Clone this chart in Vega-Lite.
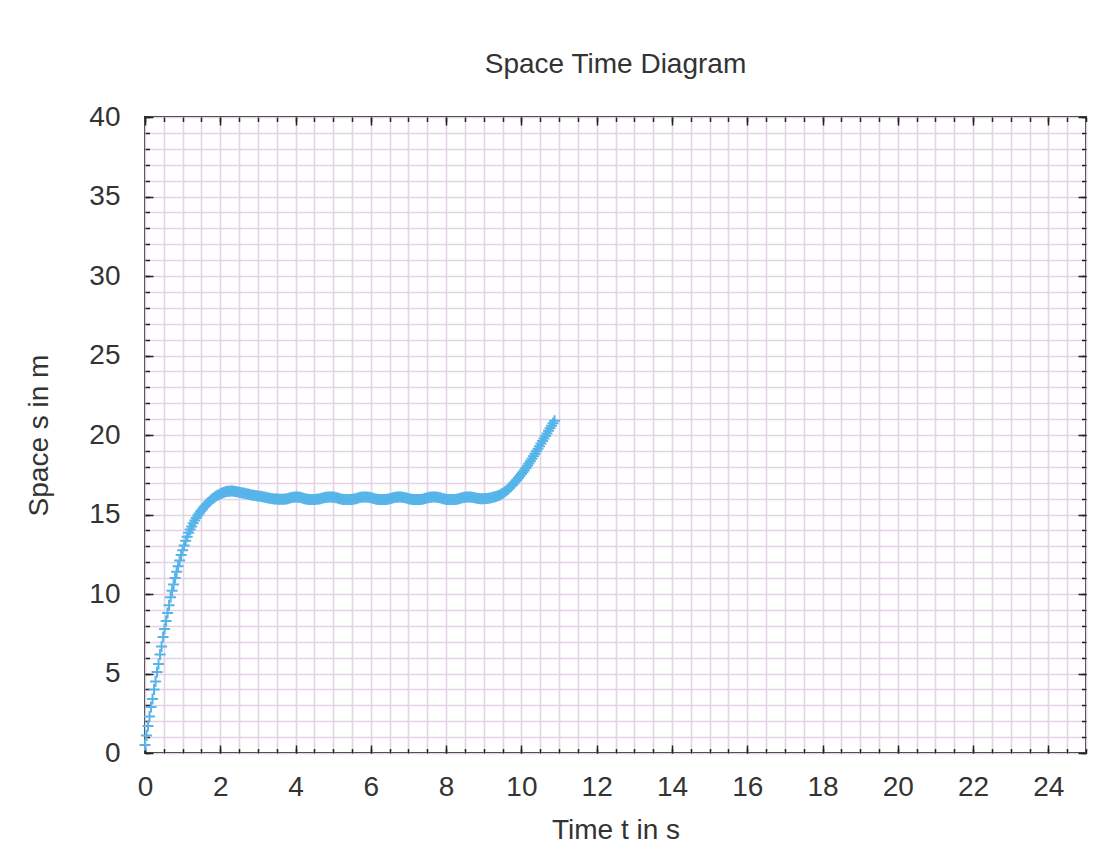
{
  "$schema": "https://vega.github.io/schema/vega-lite/v6.json",
  "width": 941,
  "height": 636,
  "autosize": {"type": "none"},
  "padding": {"left": 145, "top": 117, "right": 19, "bottom": 92},
  "background": "white",
  "title": {"text": "Space Time Diagram", "anchor": "middle", "frame": "group", "baseline": "alphabetic", "offset": 2, "font": "Liberation Sans", "fontSize": 28, "fontWeight": "normal", "color": "#333"},
  "config": {
    "view": {"stroke": "#222", "strokeWidth": 2},
    "axis": {"labelFont": "Liberation Sans", "titleFont": "Liberation Sans", "labelFontSize": 28, "titleFontSize": 28, "labelColor": "#333", "titleColor": "#333", "titleFontWeight": "normal", "domain": false, "tickColor": "#222", "tickWidth": 1.5, "labelFlush": false}
  },
  "data": {"values": [
    {"t":0,"s":0.5},{"t":0.04,"s":1.1},{"t":0.08,"s":1.7},{"t":0.12,"s":2.3},{"t":0.16,"s":2.9},{"t":0.2,"s":3.4},{"t":0.24,"s":4.0},{"t":0.28,"s":4.5},{"t":0.32,"s":5.1},{"t":0.36,"s":5.6},
    {"t":0.4,"s":6.2},{"t":0.44,"s":6.7},{"t":0.48,"s":7.3},{"t":0.52,"s":7.8},{"t":0.56,"s":8.3},{"t":0.6,"s":8.8},{"t":0.64,"s":9.3},{"t":0.68,"s":9.8},{"t":0.72,"s":10.2},{"t":0.76,"s":10.6},
    {"t":0.8,"s":11.0},{"t":0.84,"s":11.4},{"t":0.88,"s":11.75},{"t":0.92,"s":12.1},{"t":0.96,"s":12.45},{"t":1.0,"s":12.75},{"t":1.04,"s":13.05},{"t":1.08,"s":13.35},{"t":1.12,"s":13.6},{"t":1.16,"s":13.85},
    {"t":1.2,"s":14.05},{"t":1.24,"s":14.25},{"t":1.28,"s":14.45},{"t":1.32,"s":14.62},{"t":1.36,"s":14.78},{"t":1.4,"s":14.93},{"t":1.44,"s":15.07},{"t":1.48,"s":15.2},{"t":1.52,"s":15.32},{"t":1.56,"s":15.44},
    {"t":1.6,"s":15.55},{"t":1.64,"s":15.65},{"t":1.68,"s":15.75},{"t":1.72,"s":15.84},{"t":1.76,"s":15.92},{"t":1.8,"s":16.0},{"t":1.84,"s":16.07},{"t":1.88,"s":16.14},{"t":1.92,"s":16.2},{"t":1.96,"s":16.25},
    {"t":2.0,"s":16.3},{"t":2.04,"s":16.34},{"t":2.08,"s":16.38},{"t":2.12,"s":16.41},{"t":2.16,"s":16.44},{"t":2.2,"s":16.46},{"t":2.24,"s":16.47},{"t":2.28,"s":16.48},{"t":2.32,"s":16.48},{"t":2.36,"s":16.47},
    {"t":2.4,"s":16.45},{"t":2.44,"s":16.43},{"t":2.48,"s":16.41},{"t":2.52,"s":16.39},{"t":2.56,"s":16.37},{"t":2.6,"s":16.35},{"t":2.64,"s":16.33},{"t":2.68,"s":16.31},{"t":2.72,"s":16.29},{"t":2.76,"s":16.27},
    {"t":2.8,"s":16.25},{"t":2.84,"s":16.23},{"t":2.88,"s":16.21},{"t":2.92,"s":16.2},{"t":2.96,"s":16.18},{"t":3.0,"s":16.17},{"t":3.04,"s":16.15},{"t":3.08,"s":16.14},{"t":3.12,"s":16.12},{"t":3.16,"s":16.1},
    {"t":3.2,"s":16.08},{"t":3.24,"s":16.06},{"t":3.28,"s":16.04},{"t":3.32,"s":16.02},{"t":3.36,"s":16.0},{"t":3.4,"s":15.99},{"t":3.44,"s":15.98},{"t":3.48,"s":15.97},{"t":3.52,"s":15.97},{"t":3.56,"s":15.96},
    {"t":3.6,"s":15.96},{"t":3.64,"s":15.96},{"t":3.68,"s":15.96},{"t":3.72,"s":15.97},{"t":3.76,"s":15.98},{"t":3.8,"s":16.0},{"t":3.84,"s":16.03},{"t":3.88,"s":16.06},{"t":3.92,"s":16.08},{"t":3.96,"s":16.09},
    {"t":4.0,"s":16.1},{"t":4.04,"s":16.1},{"t":4.08,"s":16.09},{"t":4.12,"s":16.08},{"t":4.16,"s":16.05},{"t":4.2,"s":16.02},{"t":4.24,"s":15.99},{"t":4.28,"s":15.97},{"t":4.32,"s":15.96},{"t":4.36,"s":15.95},
    {"t":4.4,"s":15.95},{"t":4.44,"s":15.95},{"t":4.48,"s":15.95},{"t":4.52,"s":15.95},{"t":4.56,"s":15.96},{"t":4.6,"s":15.97},{"t":4.64,"s":15.98},{"t":4.68,"s":16.0},{"t":4.72,"s":16.03},{"t":4.76,"s":16.06},
    {"t":4.8,"s":16.08},{"t":4.84,"s":16.09},{"t":4.88,"s":16.1},{"t":4.92,"s":16.1},{"t":4.96,"s":16.1},{"t":5.0,"s":16.09},{"t":5.04,"s":16.08},{"t":5.08,"s":16.06},{"t":5.12,"s":16.03},{"t":5.16,"s":16.0},
    {"t":5.2,"s":15.98},{"t":5.24,"s":15.96},{"t":5.28,"s":15.95},{"t":5.32,"s":15.95},{"t":5.36,"s":15.95},{"t":5.4,"s":15.95},{"t":5.44,"s":15.95},{"t":5.48,"s":15.95},{"t":5.52,"s":15.96},{"t":5.56,"s":15.97},
    {"t":5.6,"s":15.99},{"t":5.64,"s":16.02},{"t":5.68,"s":16.05},{"t":5.72,"s":16.08},{"t":5.76,"s":16.09},{"t":5.8,"s":16.1},{"t":5.84,"s":16.1},{"t":5.88,"s":16.1},{"t":5.92,"s":16.09},{"t":5.96,"s":16.08},
    {"t":6.0,"s":16.06},{"t":6.04,"s":16.03},{"t":6.08,"s":16.0},{"t":6.12,"s":15.98},{"t":6.16,"s":15.96},{"t":6.2,"s":15.95},{"t":6.24,"s":15.95},{"t":6.28,"s":15.95},{"t":6.32,"s":15.95},{"t":6.36,"s":15.95},
    {"t":6.4,"s":15.95},{"t":6.44,"s":15.96},{"t":6.48,"s":15.98},{"t":6.52,"s":16.0},{"t":6.56,"s":16.03},{"t":6.6,"s":16.06},{"t":6.64,"s":16.08},{"t":6.68,"s":16.09},{"t":6.72,"s":16.1},{"t":6.76,"s":16.1},
    {"t":6.8,"s":16.1},{"t":6.84,"s":16.09},{"t":6.88,"s":16.07},{"t":6.92,"s":16.05},{"t":6.96,"s":16.02},{"t":7.0,"s":15.99},{"t":7.04,"s":15.97},{"t":7.08,"s":15.96},{"t":7.12,"s":15.95},{"t":7.16,"s":15.95},
    {"t":7.2,"s":15.95},{"t":7.24,"s":15.95},{"t":7.28,"s":15.95},{"t":7.32,"s":15.95},{"t":7.36,"s":15.96},{"t":7.4,"s":15.98},{"t":7.44,"s":16.0},{"t":7.48,"s":16.03},{"t":7.52,"s":16.06},{"t":7.56,"s":16.08},
    {"t":7.6,"s":16.09},{"t":7.64,"s":16.1},{"t":7.68,"s":16.1},{"t":7.72,"s":16.1},{"t":7.76,"s":16.09},{"t":7.8,"s":16.07},{"t":7.84,"s":16.05},{"t":7.88,"s":16.02},{"t":7.92,"s":15.99},{"t":7.96,"s":15.97},
    {"t":8.0,"s":15.96},{"t":8.04,"s":15.95},{"t":8.08,"s":15.95},{"t":8.12,"s":15.95},{"t":8.16,"s":15.95},{"t":8.2,"s":15.95},{"t":8.24,"s":15.95},{"t":8.28,"s":15.96},{"t":8.32,"s":15.98},{"t":8.36,"s":16.0},
    {"t":8.4,"s":16.03},{"t":8.44,"s":16.06},{"t":8.48,"s":16.08},{"t":8.52,"s":16.09},{"t":8.56,"s":16.1},{"t":8.6,"s":16.1},{"t":8.64,"s":16.1},{"t":8.68,"s":16.09},{"t":8.72,"s":16.07},{"t":8.76,"s":16.05},
    {"t":8.8,"s":16.03},{"t":8.84,"s":16.01},{"t":8.88,"s":16.0},{"t":8.92,"s":15.99},{"t":8.96,"s":15.99},{"t":9.0,"s":15.99},{"t":9.04,"s":16.0},{"t":9.08,"s":16.01},{"t":9.12,"s":16.02},{"t":9.16,"s":16.04},
    {"t":9.2,"s":16.06},{"t":9.24,"s":16.08},{"t":9.28,"s":16.1},{"t":9.32,"s":16.13},{"t":9.36,"s":16.16},{"t":9.4,"s":16.2},{"t":9.44,"s":16.25},{"t":9.48,"s":16.3},{"t":9.52,"s":16.36},{"t":9.56,"s":16.43},
    {"t":9.6,"s":16.5},{"t":9.64,"s":16.58},{"t":9.68,"s":16.67},{"t":9.72,"s":16.76},{"t":9.76,"s":16.86},{"t":9.8,"s":16.96},{"t":9.84,"s":17.07},{"t":9.88,"s":17.18},{"t":9.92,"s":17.3},{"t":9.96,"s":17.42},
    {"t":10.0,"s":17.54},{"t":10.04,"s":17.66},{"t":10.08,"s":17.79},{"t":10.12,"s":17.92},{"t":10.16,"s":18.06},{"t":10.2,"s":18.2},{"t":10.24,"s":18.35},{"t":10.28,"s":18.5},{"t":10.32,"s":18.66},{"t":10.36,"s":18.82},
    {"t":10.4,"s":18.98},{"t":10.44,"s":19.14},{"t":10.48,"s":19.3},{"t":10.52,"s":19.46},{"t":10.56,"s":19.62},{"t":10.6,"s":19.78},{"t":10.64,"s":19.94},{"t":10.68,"s":20.1},{"t":10.72,"s":20.26},{"t":10.76,"s":20.42},
    {"t":10.8,"s":20.58},{"t":10.84,"s":20.74},{"t":10.88,"s":20.9}
  ]},
  "resolve": {"axis": {"x": "independent", "y": "independent"}},
  "layer": [
    {
      "mark": {"type": "point", "opacity": 0},
      "encoding": {
        "x": {"field": "t", "type": "quantitative", "scale": {"domain": [0, 25], "nice": false, "zero": false},
              "axis": {"orient": "bottom", "tickCount": 50, "labels": false, "ticks": true, "tickSize": -4.5, "grid": true, "gridColor": "#e4d2e6", "gridWidth": 1.6, "title": null}},
        "y": {"field": "s", "type": "quantitative", "scale": {"domain": [0, 40], "nice": false, "zero": false},
              "axis": {"orient": "left", "tickCount": 40, "labels": false, "ticks": true, "tickSize": -4.5, "grid": true, "gridColor": "#e4d2e6", "gridWidth": 1.6, "title": null}}
      }
    },
    {
      "mark": {"type": "point", "opacity": 0},
      "encoding": {
        "x": {"field": "t", "type": "quantitative", "axis": {"orient": "top", "tickCount": 50, "labels": false, "ticks": true, "tickSize": -4.5, "grid": false, "title": null}},
        "y": {"field": "s", "type": "quantitative", "axis": {"orient": "right", "tickCount": 40, "labels": false, "ticks": true, "tickSize": -4.5, "grid": false, "title": null}}
      }
    },
    {
      "mark": {"type": "point", "opacity": 0},
      "encoding": {
        "x": {"field": "t", "type": "quantitative", "axis": {"orient": "top", "tickCount": 12, "labels": false, "ticks": true, "tickSize": -8, "grid": false, "title": null}},
        "y": {"field": "s", "type": "quantitative", "axis": {"orient": "right", "tickCount": 8, "labels": false, "ticks": true, "tickSize": -8, "grid": false, "title": null}}
      }
    },
    {
      "mark": {"type": "point", "opacity": 0},
      "encoding": {
        "x": {"field": "t", "type": "quantitative", "axis": {"orient": "bottom", "tickCount": 12, "labels": false, "ticks": true, "tickSize": -8, "grid": false, "title": null}},
        "y": {"field": "s", "type": "quantitative", "axis": {"orient": "left", "tickCount": 8, "labels": false, "ticks": true, "tickSize": -8, "grid": false, "title": null}}
      }
    },
    {
      "mark": {"type": "point", "shape": "M-1,0L1,0M0,-1L0,1", "filled": false, "stroke": "#56b4e9", "strokeWidth": 2, "size": 121, "opacity": 1},
      "encoding": {
        "x": {"field": "t", "type": "quantitative", "axis": {"orient": "bottom", "tickCount": 12, "ticks": false, "grid": false, "labelPadding": 20, "title": "Time t in s", "titlePadding": 15}},
        "y": {"field": "s", "type": "quantitative", "axis": {"orient": "left", "tickCount": 8, "ticks": false, "grid": false, "labelPadding": 25, "title": "Space s in m", "titlePadding": 35}}
      }
    }
  ]
}
